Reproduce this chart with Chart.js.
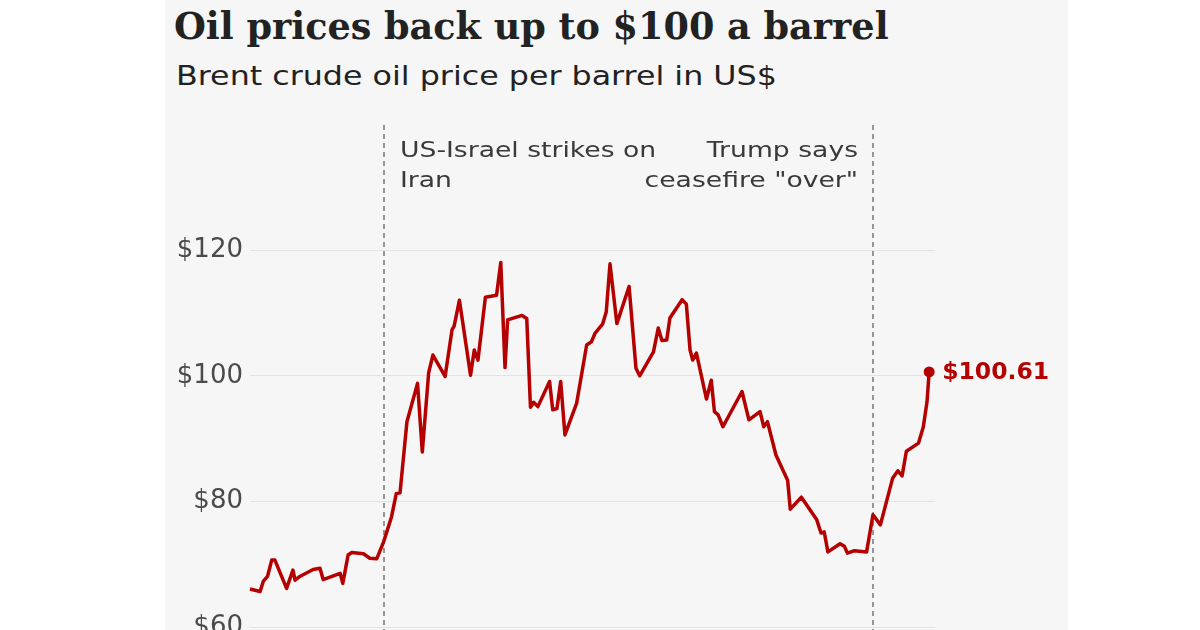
<!DOCTYPE html>
<html>
<head>
<meta charset="utf-8">
<script src="https://cdn.jsdelivr.net/npm/chart.js@4/dist/chart.umd.min.js"></script>
<style>
  html, body { margin: 0; padding: 0; background: #fff; }
  #page { position: relative; width: 1200px; height: 630px; overflow: hidden; }
  #panel { position: absolute; left: 165px; top: 0; width: 903px; height: 630px; background: #f6f6f6; overflow: hidden; }
  #title { position: absolute; left: 9px; top: 9px; font: bold 36.6px "DejaVu Serif", serif; color: #222; line-height: 36px; white-space: nowrap; }
  #subtitle { position: absolute; left: 11px; top: 62px; font: 27px "DejaVu Sans", sans-serif; color: #222; line-height: 27px; white-space: nowrap; transform: scaleX(1.175); transform-origin: left top; }
  #myChart { position: absolute; left: 0; top: 100px; }
</style>
</head>
<body>
<div id="page">
  <div id="panel">
    <div id="title">Oil prices back up to $100 a barrel</div>
    <div id="subtitle">Brent crude oil price per barrel in US$</div>
    <canvas id="myChart" width="903" height="600"></canvas>
  </div>
</div>
<script>
'use strict';
// days since start of the chart, Brent price in US$
let days = [0, 1.9, 2.5, 3.3, 4.1, 4.7, 6.9, 8.1, 8.5, 9.4,
  11.9, 13.2, 13.8, 17.0, 17.5, 18.5, 19.2, 21.4, 22.6, 23.9,
  25.2, 26.7, 27.6, 28.3, 29.6, 31.6, 32.5, 33.7, 34.5, 36.8,
  38.1, 38.5, 39.5, 41.6, 42.3, 43.0, 44.4, 46.5, 47.3, 48.1,
  48.6, 51.3, 52.2, 52.9, 53.5, 54.3, 56.5, 57.1, 57.9, 58.6,
  59.4, 61.6, 63.5, 64.4, 65.1, 66.5, 67.2, 67.9, 69.2, 71.5,
  72.8, 73.5, 76.1, 77.0, 77.7, 78.6, 79.2, 81.5, 82.3, 83.0,
  83.5, 84.2, 86.1, 87.0, 87.6, 88.3, 89.2, 92.8, 94.1, 96.2,
  96.9, 97.6, 99.2, 101.4, 101.9, 104.0, 106.9, 107.7, 108.3, 109.0,
  111.3, 112.1, 112.7, 114.0, 116.3, 117.5, 118.9, 121.2, 122.2, 123.0,
  123.8, 126.1, 127.0, 127.7, 128.1];
let prices = [66.1, 65.7, 67.3, 68.1, 70.7, 70.7, 66.2, 69.1, 67.5, 68.1,
  69.2, 69.4, 67.6, 68.6, 67.0, 71.5, 71.9, 71.7, 71.0, 70.9,
  73.6, 77.6, 81.3, 81.4, 92.7, 98.8, 87.9, 100.5, 103.3, 99.9,
  107.3, 107.9, 112.0, 100.1, 104.1, 102.5, 112.5, 112.8, 118.0, 101.3,
  108.9, 109.6, 109.1, 95.0, 95.8, 95.1, 99.1, 94.6, 94.8, 99.1,
  90.6, 95.6, 104.9, 105.4, 106.8, 108.2, 110.2, 117.8, 108.3, 114.2,
  101.2, 100.0, 103.8, 107.6, 105.6, 105.7, 109.2, 112.1, 111.4, 104.1,
  102.5, 103.6, 96.3, 99.3, 94.3, 93.8, 91.9, 97.5, 93.0, 94.3,
  91.9, 92.7, 87.4, 83.4, 78.8, 80.7, 77.1, 75.0, 75.2, 72.0,
  73.3, 72.9, 71.8, 72.2, 72.0, 77.9, 76.3, 83.7, 84.9, 84.1,
  88.0, 89.3, 91.9, 95.9, 100.61];
let yTicks = [60, 80, 100, 120];
let eventDays = [25.3, 117.5];
let eventLabels = [['US-Israel strikes on', 'Iran'], ['Trump says', 'ceasefire "over"']];

let red = '#b40000';
let last = prices.length - 1;
let points = [];
for (let i = 0; i < days.length; i++) {
  points.push({ x: days[i], y: prices[i] });
}

let eventLines = {
  id: 'eventLines',
  beforeDatasetsDraw(chart) {
    let ctx = chart.ctx;
    ctx.save();
    ctx.strokeStyle = '#777';
    ctx.lineWidth = 1.5;
    ctx.setLineDash([5, 4]);
    eventDays.forEach(function (d) {
      let px = Math.round(chart.scales.x.getPixelForValue(d));
      ctx.beginPath();
      ctx.moveTo(px, 25);
      ctx.lineTo(px, chart.height);
      ctx.stroke();
    });
    ctx.restore();
  },
  afterDatasetsDraw(chart) {
    let ctx = chart.ctx;
    let xs = chart.scales.x, ys = chart.scales.y;
    ctx.save();
    ctx.fillStyle = '#3a3a3a';
    ctx.font = '22px "DejaVu Sans"';
    ctx.textBaseline = 'alphabetic';
    eventDays.forEach(function (d, i) {
      let px = Math.round(xs.getPixelForValue(d));
      let left = i === 0;
      eventLabels[i].forEach(function (line, j) {
        ctx.save();
        ctx.translate(left ? px + 16 : px - 15, 57 + j * 30);
        ctx.scale(1.21, 1);
        ctx.textAlign = left ? 'left' : 'right';
        ctx.fillText(line, 0, 0);
        ctx.restore();
      });
    });
    // end value label
    ctx.fillStyle = red;
    ctx.font = 'bold 23.5px "DejaVu Sans"';
    ctx.textAlign = 'left';
    ctx.textBaseline = 'middle';
    ctx.fillText('$' + prices[last].toFixed(2), xs.getPixelForValue(days[last]) + 13, ys.getPixelForValue(prices[last]) + 1);
    ctx.restore();
  }
};

let ctx = document.getElementById('myChart').getContext('2d');
let chart = new Chart(ctx, {
  type: 'line',
  data: {
    datasets: [{
      label: 'Brent crude',
      data: points,
      borderColor: red,
      backgroundColor: red,
      borderWidth: 3.5,
      borderJoinStyle: 'round',
      tension: 0,
      pointRadius: function (c) { return c.dataIndex === last ? 5.5 : 0; },
      pointBackgroundColor: red,
      pointBorderWidth: 0,
      clip: false
    }]
  },
  options: {
    responsive: false,
    animation: false,
    layout: { padding: { left: 0, right: 133, top: 150, bottom: 72.6 } },
    plugins: { legend: { display: false }, tooltip: { enabled: false } },
    scales: {
      x: { type: 'linear', min: 0, max: 129.2, display: false },
      y: {
        min: 60, max: 120,
        afterFit: function (s) { s.width = 85; },
        afterBuildTicks: function (s) { s.ticks = yTicks.map(v => ({ value: v })); },
        border: { display: false },
        grid: { color: '#e3e3e3', lineWidth: 1, drawTicks: false },
        ticks: {
          padding: 7,
          color: '#4a4a4a',
          font: { family: 'DejaVu Sans', size: 26 },
          callback: function (v) { return '$' + v; }
        }
      }
    }
  },
  plugins: [eventLines]
});
</script>
</body>
</html>
